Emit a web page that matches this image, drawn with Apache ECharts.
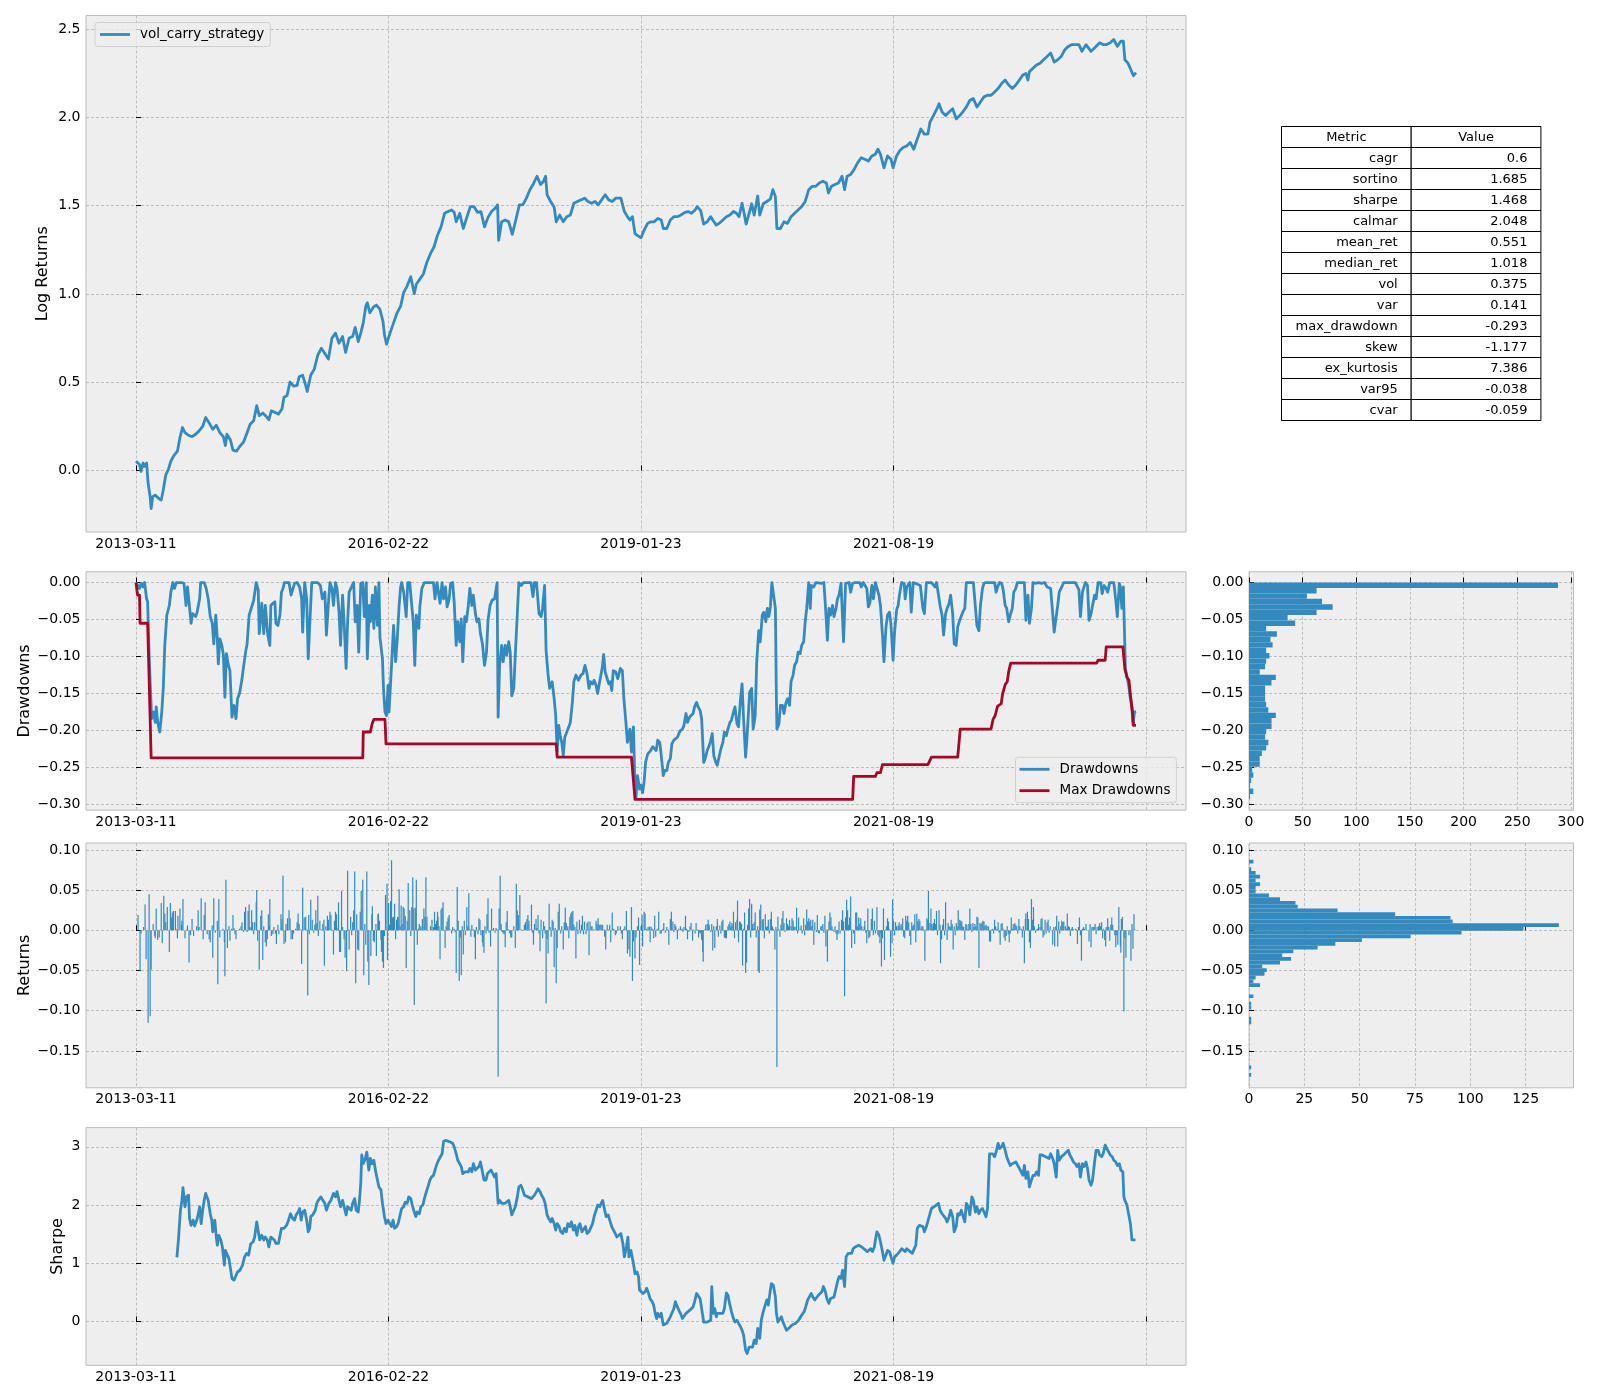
<!DOCTYPE html>
<html><head><meta charset="utf-8">
<script src="https://cdn.jsdelivr.net/npm/echarts@6/dist/echarts.min.js"></script>
<style>html,body{margin:0;padding:0;background:#fff}#c{width:1600px;height:1400px}</style>
</head><body><div id="c"></div>
<script>
// ---------- data ----------
const tickIdx = [0, 500, 1000, 1500, 2000];
const tickDates = ['2013-03-11', '2016-02-22', '2019-01-23', '2021-08-19', ''];

const logReturns = [[0,0.052],[7,0.033],[10,-0.006],[14,0.042],[17,0.023],[21,0.042],[24,-0.073],[28,-0.149],[30,-0.216],[33,-0.149],[38,-0.140],[45,-0.159],[50,-0.168],[54,-0.111],[59,-0.025],[64,0.004],[69,0.052],[75,0.084],[82,0.109],[87,0.185],[92,0.243],[97,0.214],[104,0.199],[111,0.191],[118,0.205],[125,0.224],[132,0.249],[138,0.300],[145,0.268],[152,0.233],[159,0.256],[166,0.214],[173,0.191],[177,0.141],[180,0.205],[187,0.172],[192,0.115],[199,0.109],[206,0.138],[213,0.161],[220,0.214],[226,0.262],[233,0.281],[239,0.367],[244,0.310],[251,0.325],[258,0.306],[263,0.287],[268,0.338],[275,0.329],[282,0.319],[289,0.348],[293,0.415],[299,0.424],[305,0.501],[312,0.478],[319,0.482],[323,0.530],[330,0.539],[336,0.482],[339,0.447],[346,0.539],[353,0.574],[360,0.654],[367,0.692],[374,0.663],[381,0.631],[388,0.750],[395,0.778],[402,0.721],[409,0.759],[415,0.669],[422,0.750],[429,0.759],[434,0.811],[440,0.730],[445,0.778],[450,0.836],[455,0.931],[458,0.950],[463,0.893],[470,0.925],[476,0.937],[483,0.912],[489,0.845],[492,0.769],[496,0.715],[503,0.778],[510,0.836],[517,0.893],[524,0.931],[530,1.008],[537,1.046],[544,1.098],[551,1.002],[555,1.055],[562,1.084],[569,1.113],[576,1.180],[583,1.228],[590,1.266],[597,1.333],[604,1.380],[611,1.457],[618,1.467],[625,1.476],[630,1.463],[634,1.409],[641,1.457],[648,1.371],[655,1.434],[662,1.495],[669,1.495],[676,1.463],[683,1.467],[690,1.380],[697,1.434],[704,1.467],[711,1.486],[716,1.505],[718,1.304],[724,1.409],[731,1.419],[738,1.409],[745,1.338],[752,1.419],[759,1.505],[766,1.505],[773,1.543],[780,1.591],[787,1.625],[794,1.667],[801,1.620],[807,1.639],[811,1.667],[814,1.562],[821,1.524],[828,1.491],[832,1.409],[839,1.447],[846,1.409],[853,1.438],[860,1.447],[867,1.514],[874,1.524],[881,1.533],[888,1.543],[895,1.524],[902,1.514],[909,1.524],[915,1.505],[922,1.533],[929,1.562],[936,1.533],[943,1.524],[950,1.543],[960,1.543],[967,1.467],[974,1.434],[978,1.419],[983,1.438],[988,1.342],[995,1.327],[1000,1.319],[1006,1.361],[1013,1.400],[1019,1.409],[1026,1.409],[1033,1.428],[1040,1.419],[1044,1.371],[1051,1.371],[1058,1.419],[1065,1.438],[1072,1.438],[1079,1.447],[1086,1.461],[1093,1.467],[1100,1.457],[1107,1.476],[1111,1.495],[1118,1.472],[1124,1.396],[1131,1.409],[1138,1.438],[1142,1.419],[1149,1.390],[1156,1.403],[1162,1.419],[1169,1.438],[1176,1.447],[1183,1.467],[1189,1.457],[1194,1.438],[1200,1.514],[1204,1.457],[1208,1.396],[1214,1.457],[1219,1.511],[1224,1.447],[1231,1.556],[1235,1.447],[1242,1.511],[1249,1.524],[1256,1.537],[1261,1.591],[1266,1.553],[1269,1.371],[1276,1.371],[1283,1.409],[1290,1.400],[1297,1.438],[1304,1.457],[1311,1.476],[1318,1.495],[1325,1.524],[1332,1.591],[1339,1.610],[1346,1.610],[1353,1.629],[1360,1.639],[1367,1.629],[1371,1.572],[1377,1.610],[1384,1.620],[1391,1.629],[1398,1.667],[1403,1.591],[1408,1.667],[1415,1.677],[1422,1.706],[1429,1.744],[1436,1.772],[1443,1.763],[1450,1.753],[1457,1.782],[1464,1.792],[1469,1.820],[1474,1.792],[1481,1.715],[1488,1.782],[1495,1.763],[1499,1.715],[1506,1.782],[1512,1.811],[1519,1.830],[1526,1.839],[1533,1.858],[1540,1.820],[1547,1.878],[1554,1.935],[1561,1.906],[1568,1.906],[1572,1.973],[1579,2.011],[1586,2.050],[1590,2.078],[1596,2.031],[1603,2.011],[1610,2.031],[1617,2.050],[1624,1.992],[1631,2.011],[1637,2.031],[1644,2.059],[1651,2.097],[1658,2.107],[1665,2.059],[1672,2.088],[1679,2.117],[1686,2.126],[1693,2.126],[1700,2.145],[1707,2.164],[1714,2.193],[1721,2.212],[1728,2.184],[1735,2.164],[1742,2.184],[1749,2.212],[1756,2.241],[1762,2.250],[1766,2.212],[1769,2.260],[1776,2.279],[1783,2.298],[1790,2.308],[1797,2.327],[1804,2.346],[1811,2.365],[1818,2.314],[1825,2.327],[1832,2.346],[1839,2.384],[1846,2.403],[1853,2.413],[1860,2.413],[1867,2.413],[1873,2.375],[1881,2.413],[1891,2.375],[1898,2.394],[1908,2.423],[1915,2.413],[1922,2.413],[1929,2.423],[1936,2.442],[1943,2.403],[1950,2.432],[1955,2.432],[1958,2.327],[1964,2.308],[1968,2.283],[1972,2.256],[1975,2.237],[1980,2.254]];

const drawdowns = [[0,0],[3,-0.001],[7,-0.008],[10,-0.001],[14,-0.006],[17,0],[21,-0.022],[23,-0.026],[26,-0.098],[28,-0.134],[31,-0.184],[35,-0.175],[38,-0.189],[40,-0.168],[43,-0.189],[47,-0.202],[51,-0.175],[54,-0.143],[57,-0.085],[61,-0.044],[66,-0.031],[69,-0.013],[73,0],[76,-0.008],[80,0],[90,0],[95,-0.001],[99,-0.031],[102,-0.006],[105,-0.026],[109,-0.055],[112,-0.042],[118,-0.046],[121,-0.040],[126,-0.022],[128,0],[135,0],[139,-0.008],[143,-0.022],[147,-0.046],[151,-0.055],[154,-0.083],[158,-0.044],[161,-0.076],[163,-0.110],[166,-0.076],[170,-0.085],[173,-0.098],[176,-0.155],[179,-0.096],[183,-0.112],[186,-0.119],[190,-0.182],[194,-0.166],[198,-0.184],[201,-0.157],[205,-0.150],[209,-0.134],[213,-0.114],[217,-0.094],[220,-0.083],[224,-0.044],[229,-0.033],[233,-0.024],[238,0],[242,-0.010],[244,-0.069],[249,-0.028],[253,-0.069],[256,-0.031],[261,-0.071],[265,-0.085],[267,-0.031],[271,-0.028],[275,-0.026],[277,-0.055],[281,-0.058],[285,-0.044],[288,-0.013],[291,-0.008],[294,0],[303,0],[307,-0.017],[310,-0.017],[314,-0.001],[319,0],[324,-0.006],[328,-0.022],[330,-0.067],[334,0],[338,-0.022],[341,-0.103],[344,-0.058],[348,0],[360,0],[365,-0.004],[369,-0.022],[374,-0.013],[377,-0.071],[381,-0.028],[384,0],[388,-0.008],[391,-0.031],[395,0],[398,-0.008],[402,-0.040],[405,-0.085],[409,-0.017],[412,-0.053],[416,-0.116],[419,-0.053],[422,-0.013],[428,-0.004],[431,0],[434,-0.053],[438,-0.031],[441,-0.094],[445,-0.001],[449,0],[452,-0.046],[456,0],[458,-0.103],[462,-0.031],[464,-0.053],[468,-0.017],[471,-0.062],[474,-0.006],[478,-0.058],[481,0],[483,-0.074],[488,-0.103],[490,-0.143],[493,-0.175],[496,-0.180],[499,-0.139],[501,-0.175],[504,-0.137],[508,-0.085],[510,-0.058],[514,-0.107],[517,-0.080],[521,-0.031],[524,-0.006],[526,0],[530,-0.013],[535,-0.046],[538,0],[542,0],[546,-0.031],[549,-0.053],[552,-0.112],[555,-0.044],[560,-0.062],[562,-0.033],[566,-0.008],[571,0],[589,0],[592,-0.022],[596,0],[602,-0.028],[606,0],[609,-0.022],[613,-0.006],[616,-0.033],[620,-0.022],[623,-0.001],[627,0],[630,-0.026],[634,-0.085],[637,-0.053],[641,-0.080],[644,-0.049],[647,-0.107],[651,-0.046],[654,-0.053],[658,-0.031],[661,-0.008],[665,-0.031],[668,-0.017],[672,-0.042],[675,-0.053],[679,-0.049],[682,-0.069],[686,-0.083],[690,-0.112],[694,-0.094],[697,-0.051],[701,-0.031],[705,-0.024],[710,-0.022],[715,0],[717,-0.182],[720,-0.112],[724,-0.085],[727,-0.107],[731,-0.085],[734,-0.098],[738,-0.080],[741,-0.094],[744,-0.153],[748,-0.143],[751,-0.098],[755,-0.042],[758,0],[763,-0.004],[767,0],[782,0],[786,-0.019],[789,0],[793,0],[798,-0.042],[802,-0.046],[805,-0.035],[809,-0.004],[812,-0.092],[816,-0.125],[819,-0.143],[824,-0.134],[828,-0.157],[831,-0.180],[834,-0.229],[837,-0.193],[840,-0.207],[843,-0.216],[846,-0.234],[849,-0.209],[853,-0.202],[857,-0.195],[860,-0.189],[864,-0.162],[867,-0.134],[871,-0.125],[876,-0.132],[881,-0.125],[885,-0.123],[889,-0.112],[893,-0.123],[897,-0.143],[900,-0.134],[904,-0.137],[907,-0.132],[911,-0.139],[914,-0.150],[918,-0.134],[923,-0.116],[926,-0.097],[929,-0.121],[933,-0.130],[936,-0.137],[939,-0.134],[942,-0.146],[945,-0.119],[950,-0.121],[954,-0.130],[959,-0.116],[963,-0.119],[966,-0.157],[970,-0.189],[973,-0.216],[978,-0.198],[981,-0.229],[985,-0.195],[988,-0.279],[990,-0.290],[993,-0.261],[997,-0.279],[1000,-0.274],[1003,-0.284],[1006,-0.270],[1009,-0.243],[1013,-0.232],[1016,-0.234],[1019,-0.227],[1023,-0.222],[1026,-0.220],[1030,-0.227],[1033,-0.213],[1037,-0.216],[1040,-0.234],[1044,-0.261],[1047,-0.254],[1051,-0.254],[1054,-0.243],[1058,-0.238],[1061,-0.218],[1065,-0.213],[1068,-0.211],[1072,-0.209],[1075,-0.204],[1078,-0.200],[1082,-0.198],[1085,-0.193],[1089,-0.177],[1092,-0.189],[1096,-0.182],[1099,-0.180],[1103,-0.177],[1106,-0.168],[1110,-0.162],[1113,-0.168],[1117,-0.173],[1120,-0.184],[1124,-0.243],[1127,-0.238],[1131,-0.227],[1134,-0.222],[1137,-0.216],[1141,-0.204],[1144,-0.234],[1148,-0.243],[1151,-0.247],[1155,-0.234],[1158,-0.225],[1162,-0.216],[1165,-0.202],[1169,-0.207],[1172,-0.198],[1176,-0.189],[1179,-0.186],[1183,-0.175],[1186,-0.168],[1190,-0.191],[1193,-0.195],[1197,-0.157],[1200,-0.137],[1203,-0.184],[1207,-0.236],[1209,-0.218],[1212,-0.184],[1215,-0.148],[1219,-0.143],[1222,-0.198],[1226,-0.180],[1229,-0.107],[1233,-0.065],[1236,-0.080],[1240,-0.044],[1243,-0.040],[1247,-0.053],[1250,-0.035],[1253,-0.046],[1256,-0.033],[1259,0],[1262,-0.001],[1266,-0.035],[1268,-0.157],[1269,-0.198],[1273,-0.191],[1276,-0.166],[1280,-0.166],[1283,-0.177],[1287,-0.162],[1290,-0.157],[1294,-0.166],[1297,-0.134],[1301,-0.125],[1304,-0.112],[1308,-0.107],[1311,-0.094],[1315,-0.096],[1318,-0.085],[1322,-0.080],[1325,-0.053],[1328,-0.035],[1332,0],[1335,-0.035],[1337,-0.004],[1342,-0.006],[1346,0],[1358,-0.001],[1362,0],[1365,-0.031],[1369,-0.078],[1372,-0.035],[1375,-0.044],[1379,-0.031],[1382,-0.046],[1386,-0.035],[1389,-0.022],[1392,-0.017],[1396,-0.001],[1399,0],[1401,-0.080],[1405,-0.001],[1412,0],[1415,-0.013],[1419,-0.001],[1424,0],[1433,0],[1436,-0.006],[1440,0],[1443,0],[1447,-0.008],[1450,-0.033],[1453,-0.028],[1457,-0.004],[1460,-0.022],[1464,0],[1467,-0.001],[1471,-0.017],[1474,-0.031],[1478,-0.071],[1481,-0.107],[1485,-0.060],[1488,-0.044],[1492,-0.040],[1495,-0.058],[1499,-0.105],[1502,-0.067],[1506,-0.037],[1509,-0.031],[1512,-0.015],[1516,0],[1521,-0.001],[1523,-0.022],[1526,-0.006],[1532,0],[1535,-0.040],[1539,0],[1553,-0.004],[1558,-0.035],[1561,-0.042],[1565,0],[1575,0],[1582,-0.006],[1585,0],[1589,-0.017],[1592,-0.031],[1596,-0.044],[1599,-0.071],[1603,-0.042],[1606,-0.035],[1610,-0.028],[1613,-0.017],[1617,-0.042],[1620,-0.083],[1624,-0.085],[1627,-0.060],[1631,-0.051],[1634,-0.049],[1637,-0.040],[1641,-0.035],[1644,0],[1658,0],[1662,-0.033],[1665,-0.058],[1669,-0.065],[1672,-0.031],[1676,-0.008],[1679,-0.001],[1683,0],[1700,0],[1703,-0.013],[1707,-0.004],[1710,0],[1714,-0.001],[1717,-0.010],[1721,-0.031],[1724,-0.035],[1728,-0.053],[1731,-0.044],[1735,-0.035],[1738,-0.013],[1742,-0.008],[1745,0],[1759,0],[1762,-0.051],[1766,-0.017],[1769,-0.055],[1773,-0.035],[1776,0],[1780,-0.001],[1787,0],[1794,-0.001],[1799,0],[1804,-0.006],[1811,-0.008],[1818,-0.067],[1821,-0.051],[1825,-0.031],[1828,-0.013],[1833,-0.006],[1837,0],[1860,0],[1867,-0.010],[1870,-0.046],[1874,-0.013],[1877,-0.006],[1880,0],[1884,-0.004],[1887,-0.051],[1891,-0.042],[1894,-0.031],[1898,-0.017],[1901,-0.022],[1905,0],[1910,0],[1913,-0.015],[1917,-0.004],[1921,-0.008],[1924,-0.013],[1928,0],[1936,0],[1940,-0.024],[1943,-0.046],[1947,-0.001],[1949,-0.006],[1952,-0.035],[1955,-0.006],[1958,-0.089],[1959,-0.116],[1963,-0.130],[1966,-0.141],[1968,-0.153],[1972,-0.170],[1974,-0.192],[1977,-0.175],[1980,-0.174]];

const maxDrawdowns = [[0,0],[3,-0.017],[7,-0.017],[8,-0.055],[23,-0.055],[26,-0.13],[30,-0.237],[449,-0.237],[450,-0.202],[464,-0.202],[468,-0.190],[471,-0.185],[493,-0.185],[495,-0.218],[832,-0.218],[834,-0.236],[981,-0.236],[988,-0.293],[1419,-0.293],[1421,-0.262],[1464,-0.262],[1467,-0.257],[1474,-0.257],[1478,-0.246],[1568,-0.246],[1575,-0.236],[1627,-0.236],[1632,-0.198],[1693,-0.198],[1697,-0.185],[1701,-0.180],[1706,-0.167],[1713,-0.164],[1716,-0.150],[1721,-0.138],[1725,-0.134],[1728,-0.120],[1732,-0.109],[1902,-0.109],[1905,-0.105],[1919,-0.105],[1921,-0.087],[1954,-0.087],[1958,-0.117],[1962,-0.128],[1966,-0.132],[1969,-0.152],[1973,-0.175],[1975,-0.193],[1980,-0.193]];

const returns = [[4,0.019],[8,-0.051],[10,-0.004],[15,0.004],[18,0.032],[20,-0.036],[24,-0.115],[26,0.045],[28,-0.107],[30,-0.049],[34,0.008],[37,-0.007],[38,-0.010],[40,0.027],[43,-0.012],[46,-0.009],[48,0.001],[50,0.034],[52,-0.016],[55,0.043],[57,0.021],[59,0.010],[62,0.029],[66,-0.027],[68,0.034],[70,0.016],[72,0.022],[74,0.024],[78,0.024],[79,0.002],[82,-0.010],[83,0.018],[87,0.027],[90,0.007],[91,0.012],[93,0.039],[97,-0.010],[100,0.001],[102,0.006],[105,-0.040],[108,-0.006],[111,0.014],[114,-0.007],[120,0.005],[123,0.025],[125,0.004],[129,0.040],[133,-0.011],[135,0.019],[137,0.035],[141,-0.005],[145,-0.011],[147,-0.015],[151,0.006],[152,-0.034],[154,0.040],[157,-0.003],[161,0.012],[162,-0.067],[164,0.039],[166,-0.009],[172,0.002],[175,-0.015],[176,-0.057],[178,0.063],[180,0.001],[181,-0.022],[184,0.005],[186,-0.013],[189,0.002],[192,0.019],[194,0.003],[196,-0.005],[198,-0.011],[205,0.002],[208,0.005],[210,0.010],[213,-0.002],[215,0.023],[217,0.029],[220,-0.002],[222,0.024],[224,0.032],[226,0.004],[229,0.025],[231,0.010],[233,-0.005],[235,0.010],[238,0.035],[239,0.050],[241,-0.013],[244,-0.049],[247,0.018],[249,0.025],[251,-0.037],[253,0.005],[256,-0.015],[258,-0.020],[260,-0.011],[262,0.020],[264,0.005],[265,0.039],[268,-0.007],[271,-0.005],[273,0.004],[276,-0.004],[278,-0.017],[281,0.007],[283,-0.005],[287,0.020],[289,0.014],[291,0.068],[293,-0.017],[296,-0.015],[297,0.008],[300,0.015],[303,0.025],[305,0.015],[307,-0.011],[310,-0.011],[312,-0.004],[316,0.002],[319,0.010],[321,0.021],[323,0.008],[326,0.001],[328,-0.042],[330,0.053],[333,0.016],[336,0.017],[338,0.001],[340,-0.081],[342,0.019],[343,-0.005],[346,0.038],[349,0.013],[352,-0.003],[354,0.007],[356,0.025],[358,0.009],[360,0.043],[361,-0.007],[364,0.012],[367,0.001],[370,0.008],[372,0.013],[373,-0.044],[376,0.005],[379,0.018],[381,0.013],[384,0.023],[386,0.019],[388,0.001],[391,-0.030],[393,0.012],[395,0.023],[397,0.020],[400,0.003],[401,0.035],[403,-0.027],[405,-0.027],[407,0.049],[409,0.004],[412,-0.011],[414,-0.034],[417,-0.051],[419,0.074],[421,0.001],[422,-0.024],[425,0.017],[427,-0.006],[429,0.010],[431,0.025],[433,0.073],[435,-0.066],[437,0.020],[439,-0.024],[441,-0.025],[444,0.023],[446,0.049],[449,0.063],[451,-0.056],[453,0.008],[455,-0.018],[457,0.073],[459,-0.039],[461,-0.068],[465,-0.032],[467,0.020],[468,0.030],[470,-0.013],[472,-0.015],[475,0.008],[476,-0.032],[479,0.020],[480,0.021],[482,0.012],[485,-0.012],[486,-0.027],[488,-0.039],[490,-0.047],[492,-0.007],[494,0.044],[497,0.058],[498,-0.037],[500,0.034],[502,0.007],[504,0.036],[506,0.087],[508,0.016],[510,0.017],[512,0.033],[514,-0.011],[516,0.013],[518,0.017],[519,0.016],[521,0.051],[523,0.005],[525,0.031],[527,0.008],[529,0.029],[531,0.027],[533,0.018],[535,-0.047],[537,0.012],[539,0.059],[542,0.025],[544,-0.007],[546,0.029],[548,0.066],[550,0.027],[551,-0.093],[553,0.028],[555,0.063],[557,-0.018],[559,0.002],[561,0.008],[563,0.002],[564,0.005],[567,0.014],[570,0.027],[572,0.017],[574,0.066],[576,0.017],[583,0.005],[586,0.013],[589,0.004],[591,0.023],[593,0.008],[595,0.012],[597,0.023],[598,0.017],[600,0.005],[602,-0.036],[604,0.026],[606,0.028],[608,0.035],[610,-0.001],[612,-0.022],[614,0.005],[616,0.011],[618,0.016],[620,0.019],[622,0.001],[625,-0.004],[627,0.004],[630,0.002],[632,-0.002],[634,-0.053],[636,0.054],[638,0.012],[640,-0.063],[642,-0.009],[644,-0.056],[646,0.005],[648,-0.030],[650,0.012],[652,-0.006],[655,0.029],[657,0.005],[659,0.046],[661,0.002],[663,-0.008],[665,0.007],[668,0.001],[670,-0.009],[672,-0.036],[674,0.004],[677,-0.005],[679,0.015],[681,0.013],[683,-0.006],[686,-0.015],[687,-0.020],[689,-0.028],[691,0.005],[693,-0.004],[695,0.020],[697,0.040],[699,-0.003],[702,-0.020],[704,0.027],[706,0.001],[708,0.003],[711,-0.003],[713,0.003],[715,0.001],[717,-0.182],[719,0.027],[721,0.068],[723,0.008],[725,-0.002],[727,-0.004],[729,-0.005],[731,-0.021],[733,0.010],[735,0.024],[738,0.001],[740,-0.004],[742,-0.009],[744,-0.009],[748,0.005],[751,-0.022],[753,0.058],[755,0.025],[757,0.019],[760,0.044],[763,0.001],[766,-0.001],[769,0.007],[771,0.010],[774,0.014],[776,0.019],[778,0.012],[780,0.001],[783,0.032],[785,-0.003],[787,-0.018],[789,0.008],[792,0.014],[794,0.003],[796,0.019],[798,-0.004],[800,-0.026],[802,0.013],[805,-0.010],[807,0.011],[809,0.005],[810,-0.004],[812,-0.091],[814,-0.011],[816,-0.029],[818,0.033],[820,0.004],[822,-0.008],[824,0.013],[826,0.011],[828,-0.046],[830,0.003],[832,-0.066],[834,-0.022],[836,0.023],[838,0.033],[841,-0.004],[843,0.005],[846,-0.024],[848,0.010],[850,0.028],[852,0.009],[855,0.005],[857,-0.010],[859,0.017],[861,0.021],[863,0.023],[865,0.024],[867,0.007],[869,0.004],[871,-0.035],[873,0.011],[875,-0.005],[878,0.013],[880,-0.004],[882,0.007],[884,0.018],[886,-0.005],[888,0.011],[891,-0.005],[893,0.009],[895,0.011],[897,-0.031],[899,0.011],[901,0.005],[903,0.005],[906,0.001],[908,0.001],[911,0.012],[913,0.008],[915,0.015],[917,0.007],[919,0.007],[921,0.007],[924,0.007],[927,0.001],[928,-0.008],[930,-0.024],[933,0.007],[936,0.001],[938,0.007],[940,-0.015],[943,0.022],[945,0.002],[947,0.001],[949,-0.006],[951,-0.004],[954,0.005],[956,0.001],[959,0.005],[961,-0.004],[963,-0.011],[966,0.002],[968,0.005],[971,0.024],[973,-0.029],[976,-0.024],[978,-0.033],[981,0.029],[983,-0.063],[985,-0.014],[988,-0.035],[990,-0.009],[993,0.005],[995,0.016],[997,-0.043],[1000,0.005],[1002,0.019],[1003,-0.020],[1006,0.023],[1008,0.021],[1011,0.002],[1014,0.004],[1017,0.005],[1018,-0.015],[1020,0.004],[1023,0.002],[1025,-0.010],[1027,0.018],[1029,-0.008],[1032,0.002],[1035,0.023],[1038,-0.004],[1040,-0.004],[1043,0.002],[1045,0.009],[1048,-0.003],[1051,0.004],[1053,0.001],[1055,-0.018],[1058,0.014],[1060,0.023],[1063,0.011],[1065,-0.002],[1067,0.008],[1069,0.005],[1072,-0.011],[1075,0.002],[1078,0.005],[1081,0.002],[1083,-0.002],[1085,0.004],[1088,0.018],[1090,0.002],[1092,-0.011],[1095,-0.002],[1097,0.005],[1099,0.009],[1102,-0.013],[1104,0.001],[1107,-0.004],[1109,0.009],[1112,0.001],[1114,-0.009],[1116,-0.003],[1118,-0.004],[1120,-0.012],[1122,-0.027],[1123,-0.039],[1126,0.001],[1128,0.007],[1131,0.008],[1133,0.013],[1135,0.007],[1138,-0.002],[1140,0.008],[1142,-0.025],[1144,0.005],[1146,-0.022],[1149,0.005],[1151,0.014],[1153,-0.008],[1156,0.006],[1158,-0.004],[1160,0.011],[1162,0.013],[1165,-0.009],[1167,-0.010],[1169,-0.010],[1172,0.005],[1174,0.008],[1176,0.011],[1178,0.005],[1180,0.009],[1182,0.007],[1183,0.023],[1185,-0.010],[1187,0.010],[1190,0.013],[1191,0.037],[1193,-0.015],[1195,0.011],[1197,0.010],[1199,0.008],[1201,-0.044],[1203,0.002],[1205,0.022],[1207,-0.053],[1209,-0.040],[1211,0.007],[1213,0.027],[1215,0.039],[1217,-0.009],[1219,0.033],[1221,0.008],[1223,0.002],[1224,0.010],[1226,0.022],[1228,-0.009],[1231,0.005],[1232,-0.051],[1234,-0.053],[1235,0.026],[1237,0.032],[1240,0.013],[1242,0.014],[1244,-0.010],[1246,0.020],[1248,0.004],[1250,0.005],[1252,0.013],[1254,-0.004],[1256,0.014],[1258,0.023],[1260,0.005],[1262,0.002],[1265,-0.024],[1267,0.004],[1269,-0.170],[1271,0.017],[1273,0.001],[1275,-0.008],[1277,0.007],[1279,0.015],[1281,0.024],[1283,0.009],[1285,-0.002],[1288,0.015],[1290,0.008],[1292,0.005],[1294,0.013],[1297,0.005],[1299,0.015],[1301,0.012],[1303,0.005],[1305,0.004],[1308,0.028],[1310,-0.004],[1312,0.016],[1315,0.002],[1317,0.006],[1319,-0.004],[1322,0.015],[1324,-0.006],[1326,0.007],[1328,0.026],[1330,0.011],[1332,0.015],[1334,0.011],[1336,0.013],[1338,0.005],[1340,0.013],[1342,-0.018],[1344,0.010],[1347,-0.002],[1349,0.019],[1351,-0.003],[1353,-0.004],[1356,0.005],[1358,0.005],[1360,0.008],[1362,-0.003],[1364,0.018],[1366,-0.020],[1368,0.001],[1369,-0.039],[1372,0.011],[1374,0.022],[1376,0.016],[1378,0.005],[1380,0.001],[1382,-0.002],[1384,0.005],[1386,-0.004],[1388,-0.012],[1390,-0.005],[1392,0.011],[1394,-0.004],[1397,0.013],[1399,0.025],[1401,0.011],[1403,-0.082],[1405,0.016],[1407,0.038],[1409,0.025],[1411,0.007],[1413,0.016],[1415,0.042],[1417,-0.022],[1419,0.001],[1421,-0.004],[1423,-0.017],[1425,0.022],[1427,0.022],[1429,0.005],[1431,0.016],[1433,0.008],[1435,0.015],[1437,0.005],[1440,0.001],[1442,0.005],[1443,0.012],[1445,-0.003],[1447,-0.016],[1449,0.027],[1451,-0.010],[1453,-0.008],[1456,0.014],[1458,0.027],[1460,-0.006],[1462,0.012],[1464,-0.004],[1467,0.029],[1469,-0.006],[1471,-0.008],[1473,-0.016],[1475,-0.004],[1476,-0.045],[1478,-0.010],[1480,0.027],[1482,-0.037],[1484,0.001],[1486,0.005],[1488,0.015],[1490,0.011],[1492,0.001],[1494,-0.033],[1497,-0.016],[1498,0.038],[1500,0.012],[1502,-0.006],[1504,0.010],[1506,0.005],[1509,0.006],[1511,0.010],[1513,0.005],[1515,0.008],[1518,0.015],[1520,-0.008],[1522,-0.010],[1524,0.018],[1526,0.012],[1528,0.018],[1530,0.010],[1532,-0.007],[1534,-0.018],[1536,0.010],[1538,0.005],[1540,0.007],[1542,0.020],[1544,-0.015],[1546,0.021],[1548,0.011],[1550,0.014],[1552,0.012],[1554,0.002],[1556,0.005],[1558,0.005],[1560,0.001],[1562,-0.038],[1564,0.001],[1566,0.015],[1568,0.013],[1569,0.049],[1572,0.009],[1574,0.027],[1576,0.008],[1578,0.005],[1579,0.009],[1581,0.014],[1583,0.008],[1585,0.024],[1587,-0.006],[1590,0.025],[1592,0.007],[1593,-0.041],[1595,-0.011],[1597,0.007],[1599,0.014],[1601,-0.006],[1603,0.035],[1606,-0.012],[1608,0.009],[1610,0.005],[1612,0.004],[1614,0.013],[1616,0.008],[1618,-0.024],[1620,0.005],[1622,-0.006],[1624,0.009],[1626,0.005],[1628,0.025],[1631,0.013],[1633,0.012],[1635,0.011],[1637,0.005],[1639,0.004],[1641,-0.012],[1643,0.008],[1645,0.007],[1647,0.001],[1649,0.008],[1651,0.027],[1653,0.008],[1655,-0.002],[1657,0.009],[1659,0.004],[1661,0.008],[1663,0.005],[1665,0.017],[1667,0.016],[1669,-0.047],[1671,0.009],[1673,0.008],[1675,0.010],[1677,0.012],[1679,0.011],[1681,0.005],[1683,0.007],[1685,0.005],[1688,0.005],[1690,-0.014],[1692,-0.014],[1694,0.001],[1696,0.002],[1698,-0.004],[1700,0.013],[1702,0.005],[1705,0.002],[1707,0.010],[1709,-0.003],[1711,-0.018],[1713,0.008],[1715,0.009],[1717,0.002],[1719,-0.009],[1721,-0.013],[1723,-0.007],[1725,0.005],[1727,-0.005],[1729,-0.015],[1731,-0.004],[1733,0.016],[1735,0.002],[1737,0.008],[1740,0.009],[1742,0.007],[1744,0.005],[1746,-0.004],[1748,0.014],[1750,0.005],[1753,0.002],[1755,-0.009],[1757,0.005],[1759,-0.041],[1761,0.014],[1762,0.021],[1765,0.023],[1767,0.014],[1769,-0.015],[1771,-0.022],[1773,0.039],[1775,0.013],[1777,0.029],[1779,0.005],[1781,-0.003],[1783,0.001],[1785,0.002],[1787,0.008],[1790,0.004],[1792,0.014],[1794,0.015],[1796,-0.009],[1798,-0.006],[1800,0.013],[1802,-0.004],[1804,0.010],[1806,0.013],[1808,-0.003],[1810,0.005],[1815,-0.018],[1817,0.004],[1819,-0.020],[1821,0.005],[1823,0.018],[1825,-0.020],[1827,0.011],[1829,-0.004],[1831,0.005],[1833,0.012],[1835,0.010],[1837,0.011],[1840,0.005],[1842,0.002],[1844,0.021],[1846,0.005],[1848,0.004],[1850,-0.007],[1852,0.002],[1854,0.004],[1856,0.001],[1860,0.002],[1862,0.001],[1864,-0.017],[1866,0.004],[1868,0.016],[1870,-0.006],[1872,-0.038],[1874,0.002],[1876,0.004],[1878,0.002],[1881,0.008],[1887,-0.014],[1889,0.008],[1891,-0.021],[1893,0.004],[1895,0.004],[1897,0.004],[1899,0.008],[1901,-0.005],[1903,0.004],[1906,0.005],[1908,0.009],[1910,0.005],[1912,0.010],[1914,-0.010],[1916,0.002],[1918,-0.012],[1920,-0.020],[1921,0.004],[1924,0.015],[1926,0.004],[1928,-0.013],[1930,0.007],[1932,0.016],[1934,0.007],[1938,-0.006],[1940,-0.021],[1942,-0.006],[1944,-0.018],[1946,0.029],[1949,-0.020],[1950,-0.028],[1951,0.014],[1953,0.017],[1956,-0.101],[1958,-0.010],[1960,-0.034],[1966,-0.006],[1970,-0.038],[1972,0.008],[1974,-0.023],[1976,0.020],[1978,0.001]];

const rollingSharpe = [[81,1.10],[84,1.40],[88,1.91],[91,2.08],[93,2.30],[97,1.97],[100,2.14],[104,2.17],[106,1.77],[109,1.65],[113,1.74],[116,1.64],[120,1.73],[123,1.83],[126,1.97],[129,1.68],[132,1.91],[135,2.08],[138,2.20],[143,2.08],[147,1.85],[150,1.74],[152,1.54],[156,1.74],[159,1.45],[161,1.31],[164,1.48],[168,1.40],[171,1.28],[175,0.97],[177,1.22],[180,1.20],[184,1.08],[187,1.05],[190,0.74],[194,0.71],[197,0.68],[201,0.85],[206,0.88],[211,0.97],[215,1.11],[219,1.17],[223,1.14],[227,1.33],[232,1.37],[235,1.45],[239,1.71],[242,1.68],[245,1.40],[249,1.48],[253,1.40],[256,1.45],[260,1.40],[263,1.28],[267,1.45],[270,1.45],[274,1.40],[277,1.34],[282,1.34],[285,1.37],[288,1.60],[293,1.60],[298,1.65],[302,1.74],[306,1.85],[310,1.77],[314,1.74],[317,1.83],[321,1.88],[324,1.94],[327,1.74],[330,1.88],[334,1.91],[338,1.74],[341,1.54],[344,1.60],[346,1.80],[350,1.83],[355,1.91],[358,2.03],[361,2.08],[366,2.14],[370,2.08],[374,2.03],[377,1.91],[382,2.03],[386,2.08],[391,2.20],[395,2.14],[398,2.23],[402,2.08],[405,1.97],[409,2.08],[412,2.08],[416,1.83],[419,1.97],[422,2.00],[426,1.91],[429,2.03],[433,2.11],[436,1.91],[440,1.88],[442,2.03],[445,2.37],[447,2.86],[450,2.71],[454,2.80],[457,2.91],[461,2.60],[464,2.80],[467,2.71],[471,2.77],[474,2.60],[478,2.43],[481,2.31],[485,2.26],[488,2.03],[492,1.80],[495,1.68],[499,1.74],[502,1.71],[506,1.63],[509,1.74],[512,1.60],[516,1.63],[519,1.68],[523,1.83],[526,1.94],[530,1.97],[533,2.05],[537,2.03],[540,2.14],[544,2.11],[547,2.00],[551,1.88],[554,1.80],[557,1.88],[561,1.85],[564,1.97],[568,2.00],[571,2.11],[575,2.23],[578,2.31],[582,2.43],[585,2.48],[589,2.51],[592,2.60],[596,2.71],[599,2.77],[602,2.77],[606,2.88],[609,3.09],[613,3.11],[616,3.14],[620,3.09],[623,3.06],[627,3.06],[630,3.00],[634,2.88],[637,2.77],[641,2.71],[644,2.66],[647,2.54],[651,2.57],[654,2.60],[658,2.57],[661,2.63],[665,2.57],[668,2.71],[672,2.60],[675,2.57],[679,2.66],[682,2.74],[686,2.57],[689,2.43],[693,2.43],[696,2.54],[699,2.57],[703,2.60],[706,2.63],[710,2.48],[713,2.54],[717,2.03],[720,2.08],[724,2.03],[727,2.05],[731,2.03],[734,2.05],[738,2.08],[741,1.97],[744,1.83],[748,1.91],[751,1.97],[755,2.14],[758,2.31],[762,2.34],[765,2.28],[769,2.17],[776,2.14],[783,2.11],[786,2.08],[789,2.17],[793,2.23],[796,2.28],[800,2.23],[803,2.17],[807,2.11],[810,2.03],[814,1.83],[817,1.77],[821,1.71],[824,1.77],[828,1.68],[831,1.57],[834,1.68],[838,1.63],[841,1.54],[845,1.51],[848,1.60],[852,1.54],[855,1.68],[859,1.63],[862,1.71],[866,1.57],[869,1.65],[873,1.48],[876,1.63],[879,1.68],[883,1.54],[886,1.57],[890,1.63],[893,1.51],[897,1.54],[900,1.51],[904,1.68],[907,1.80],[911,1.91],[914,2.00],[918,1.97],[921,2.03],[924,2.08],[928,1.91],[931,1.80],[935,1.83],[938,1.74],[942,1.63],[945,1.60],[949,1.51],[952,1.45],[960,1.51],[964,1.34],[967,1.11],[971,1.28],[974,1.45],[976,1.11],[980,1.22],[983,1.08],[986,0.94],[988,0.82],[992,0.85],[995,0.77],[997,0.54],[1000,0.51],[1004,0.48],[1008,0.51],[1011,0.57],[1015,0.48],[1018,0.39],[1022,0.34],[1025,0.28],[1028,0.14],[1031,0.05],[1033,0.14],[1037,0.08],[1040,0.14],[1044,-0.06],[1047,-0.09],[1051,-0.03],[1054,-0.01],[1058,0.08],[1061,0.14],[1065,0.22],[1068,0.34],[1072,0.25],[1075,0.19],[1078,0.14],[1082,0.05],[1085,0.08],[1089,0.14],[1092,0.17],[1096,0.19],[1099,0.22],[1103,0.25],[1106,0.34],[1110,0.48],[1113,0.45],[1117,0.39],[1120,0.22],[1124,-0.01],[1127,-0.03],[1131,-0.01],[1134,-0.03],[1138,0.02],[1140,0.60],[1143,0.14],[1146,0.22],[1149,0.08],[1151,0.14],[1155,0.14],[1158,0.17],[1162,0.14],[1165,0.22],[1169,0.49],[1172,0.45],[1176,0.28],[1179,0.17],[1183,0.05],[1186,-0.01],[1190,0.02],[1193,-0.03],[1197,-0.09],[1200,-0.15],[1203,-0.23],[1207,-0.49],[1210,-0.55],[1214,-0.44],[1217,-0.41],[1221,-0.44],[1224,-0.32],[1228,-0.38],[1231,-0.12],[1235,-0.29],[1238,0.02],[1242,0.17],[1245,0.19],[1249,0.37],[1252,0.28],[1256,0.54],[1258,0.65],[1262,0.62],[1266,0.42],[1268,0.14],[1271,-0.01],[1274,-0.03],[1278,0.08],[1281,-0.01],[1285,-0.09],[1288,-0.15],[1292,-0.12],[1295,-0.09],[1299,-0.06],[1302,-0.06],[1306,-0.03],[1309,-0.03],[1312,0.02],[1316,0.08],[1319,0.11],[1323,0.17],[1326,0.25],[1330,0.37],[1333,0.39],[1337,0.48],[1340,0.42],[1344,0.37],[1347,0.39],[1351,0.45],[1354,0.48],[1358,0.51],[1361,0.60],[1365,0.51],[1368,0.39],[1372,0.31],[1375,0.39],[1378,0.37],[1382,0.42],[1385,0.42],[1389,0.68],[1392,0.77],[1396,0.74],[1399,0.88],[1401,0.91],[1403,0.60],[1406,1.11],[1410,1.17],[1413,1.20],[1417,1.17],[1420,1.25],[1424,1.28],[1427,1.28],[1431,1.31],[1434,1.28],[1437,1.28],[1441,1.25],[1444,1.28],[1448,1.20],[1451,1.22],[1455,1.25],[1458,1.20],[1462,1.28],[1464,1.40],[1467,1.54],[1471,1.48],[1474,1.37],[1478,1.20],[1481,1.05],[1485,1.14],[1488,1.22],[1492,1.20],[1495,1.11],[1499,1.00],[1502,1.11],[1506,1.14],[1509,1.17],[1512,1.20],[1516,1.25],[1519,1.25],[1523,1.20],[1526,1.25],[1530,1.22],[1533,1.20],[1537,1.17],[1540,1.20],[1544,1.31],[1547,1.60],[1551,1.65],[1554,1.68],[1558,1.63],[1561,1.54],[1565,1.63],[1568,1.65],[1572,1.85],[1575,1.94],[1578,1.91],[1582,1.98],[1585,2.00],[1589,2.03],[1592,1.91],[1596,1.85],[1599,1.83],[1603,1.77],[1606,1.71],[1610,1.80],[1613,1.91],[1617,1.80],[1620,1.54],[1624,1.63],[1627,1.85],[1631,1.83],[1634,1.91],[1637,1.88],[1641,1.71],[1644,2.03],[1648,1.97],[1651,1.83],[1655,2.14],[1658,2.08],[1662,1.88],[1665,1.97],[1669,1.85],[1672,1.91],[1676,1.94],[1679,1.88],[1683,1.80],[1686,1.94],[1690,2.88],[1693,2.86],[1696,2.88],[1700,2.83],[1703,2.91],[1707,3.06],[1710,2.97],[1714,3.00],[1717,3.06],[1721,2.94],[1724,2.83],[1728,2.74],[1731,2.68],[1735,2.71],[1738,2.68],[1742,2.74],[1745,2.71],[1749,2.63],[1752,2.66],[1756,2.51],[1759,2.68],[1762,2.46],[1766,2.57],[1769,2.31],[1773,2.43],[1776,2.51],[1780,2.51],[1783,2.57],[1787,2.51],[1790,2.86],[1794,2.86],[1797,2.88],[1801,2.83],[1804,2.86],[1808,2.80],[1811,2.88],[1815,2.80],[1818,2.71],[1822,2.48],[1825,2.94],[1828,2.77],[1832,2.83],[1835,2.86],[1839,2.88],[1842,2.91],[1846,2.94],[1849,2.86],[1853,2.80],[1856,2.74],[1860,2.71],[1863,2.66],[1867,2.71],[1870,2.48],[1874,2.71],[1877,2.66],[1881,2.74],[1884,2.63],[1887,2.43],[1891,2.34],[1894,2.43],[1898,2.74],[1901,2.94],[1905,2.94],[1908,2.86],[1912,2.83],[1915,2.88],[1919,3.03],[1922,2.97],[1926,2.91],[1929,2.86],[1933,2.83],[1936,2.77],[1940,2.74],[1943,2.68],[1947,2.71],[1950,2.60],[1954,2.57],[1956,2.14],[1958,2.08],[1962,2.00],[1965,1.97],[1969,1.68],[1972,1.40],[1976,1.40],[1979,1.40]];

// histogram counts, listed from the top bin downward
const ddHistCounts = [288,63,54,68,78,63,36,43,16,26,20,22,16,19,16,15,10,25,21,15,15,15,16,18,25,21,21,16,15,18,16,12,10,10,3,4,2,1,4,1];
const ddHistRange = [-0.293, 0];
const retHistCounts = [2,0,1,3,5,3,5,3,3,9,14,21,22,40,66,91,92,140,124,96,73,51,39,31,20,15,19,14,6,8,7,3,2,5,0,0,2,0,1,1,0,0,1,1,0,0,0,0,0,0,0,0,0,0,0,1,0,1];
const retHistRange = [-0.182, 0.0877];

const metricNames = ['cagr','sortino','sharpe','calmar','mean_ret','median_ret','vol','var','max_drawdown','skew','ex_kurtosis','var95','cvar'];
const metricValues = ['0.6','1.685','1.468','2.048','0.551','1.018','0.375','0.141','-0.293','-1.177','7.386','-0.038','-0.059'];

const logTicks = [0, 0.5, 1, 1.5, 2, 2.5];
const ddTicks = [0, -0.05, -0.1, -0.15, -0.2, -0.25, -0.3];
const retTicks = [0.1, 0.05, 0, -0.05, -0.1, -0.15];
const sharpeTicks = [0, 1, 2, 3];
const ddCountTicks = [0, 50, 100, 150, 200, 250, 300];
const retCountTicks = [0, 25, 50, 75, 100, 125];

// ---------- style / layout ----------
const FONT = 'DejaVu Sans';
const BLUE = '#348ABD', RED = '#A60628';
const LW = 2.8;
const uminus = s => s.replace('-', '\u2212');

const grids = [
  {left: 86, top: 15.5, width: 1100, height: 516.5},
  {left: 86, top: 571.7, width: 1100, height: 238.5},
  {left: 1249, top: 571.7, width: 324.5, height: 238.5},
  {left: 86, top: 843, width: 1100, height: 244.8},
  {left: 1249, top: 843, width: 324.5, height: 244.8},
  {left: 86, top: 1127.6, width: 1100, height: 237.7}
].map(g => Object.assign(g, {show: true, backgroundColor: '#eeeeee', borderColor: '#bcbcbc', borderWidth: 1, containLabel: false, outerBoundsMode: 'none'}));

function axisCommon(ticks, fmt, margin) {
  return {
    axisLine: {show: false},
    axisTick: {show: true, inside: true, length: 5, customValues: ticks, lineStyle: {color: '#000', width: 1}},
    axisLabel: {show: true, customValues: ticks, formatter: fmt, color: '#000', fontFamily: FONT, fontSize: 14, margin: margin},
    splitLine: {show: true, lineStyle: {color: '#b2b2b2', type: [3, 2], width: 0.8}},
    minorTick: {show: false}, minorSplitLine: {show: false}
  };
}
function idxAxis(gridIndex) {
  return Object.assign({type: 'value', gridIndex, min: -99, max: 2079},
    axisCommon(tickIdx, v => tickDates[tickIdx.indexOf(v)] || '', 5));
}
function cntAxis(gridIndex, max, ticks) {
  return Object.assign({type: 'value', gridIndex, min: 0, max: max},
    axisCommon(ticks, v => String(v), 5));
}
function valAxis(gridIndex, min, max, ticks, fmt, name, gap) {
  const a = Object.assign({type: 'value', gridIndex, min, max}, axisCommon(ticks, fmt, 5.5));
  if (name) Object.assign(a, {name, nameLocation: 'middle', nameGap: gap, nameRotate: 90, nameMoveOverlap: false,
    nameTextStyle: {fontFamily: FONT, fontSize: 16, color: '#000'}});
  return a;
}
const f1 = v => uminus(v.toFixed(1));
const f2 = v => uminus(v.toFixed(2));

function histData(counts, range) {
  const w = (range[1] - range[0]) / counts.length;
  return counts.map((c, k) => [c, range[1] - (k + 1) * w, range[1] - k * w]);
}
function histItem(params, api) {
  const c = api.value(0);
  if (!c) return null;
  const p0 = api.coord([0, api.value(2)]);
  const p1 = api.coord([c, api.value(1)]);
  return {type: 'rect', shape: {x: p0[0], y: p0[1], width: p1[0] - p0[0], height: p1[1] - p0[1]}, style: {fill: BLUE}};
}
function barItem(params, api) {
  const a = api.coord([api.value(0), api.value(1)]);
  const b = api.coord([api.value(0), 0]);
  return {type: 'rect', shape: {x: a[0] - 0.6, y: Math.min(a[1], b[1]), width: 1.2, height: Math.abs(b[1] - a[1])}, style: {fill: BLUE}};
}

// table (graphic elements)
const tbl = {left: 1281.5, top: 126.5, colW: [129.7, 129.7], rowH: 21};
const tableRows = [['Metric', 'Value']].concat(metricNames.map((m, i) => [m, metricValues[i]]));
const graphics = [];
tableRows.forEach((r, ri) => {
  const y = tbl.top + ri * tbl.rowH;
  let x = tbl.left;
  r.forEach((txt, ci) => {
    const w = tbl.colW[ci];
    graphics.push({type: 'rect', silent: true, z: 10, shape: {x, y, width: w, height: tbl.rowH},
      style: {fill: '#ffffff', stroke: '#000000', lineWidth: 1}});
    const head = ri === 0;
    graphics.push({type: 'text', silent: true, z: 11, x: head ? x + w / 2 : x + w - 13.5, y: y + tbl.rowH / 2 + 0.5,
      style: {text: txt, fill: '#000', fontFamily: FONT, fontSize: 13, align: head ? 'center' : 'right', verticalAlign: 'middle'}});
    x += w;
  });
});

const legendBase = {orient: 'vertical', icon: 'rect', itemWidth: 30, itemHeight: 2.8, selectedMode: false,
  backgroundColor: 'rgba(238,238,238,0.8)', borderColor: '#d0d0d0', borderWidth: 1, borderRadius: 3,
  textStyle: {fontFamily: FONT, fontSize: 13.5, lineHeight: 16, color: '#000', padding: [0, 0, 0, 5]}};

const option = {
  animation: false,
  backgroundColor: '#ffffff',
  grid: grids,
  xAxis: [idxAxis(0), idxAxis(1), cntAxis(2, 302.4, ddCountTicks), idxAxis(3), cntAxis(4, 146.6, retCountTicks), idxAxis(5)],
  yAxis: [
    valAxis(0, -0.349, 2.578, logTicks, f1, 'Log Returns', 35),
    valAxis(1, -0.30765, 0.01465, ddTicks, f2, 'Drawdowns', 53),
    valAxis(2, -0.30765, 0.01465, ddTicks, f2),
    valAxis(3, -0.1959, 0.1086, retTicks, f2, 'Returns', 53),
    valAxis(4, -0.1959, 0.1086, retTicks, f2),
    valAxis(5, -0.753, 3.33, sharpeTicks, v => String(v), 'Sharpe', 20)
  ],
  legend: [
    Object.assign({}, legendBase, {data: ['vol_carry_strategy'], left: 95, top: 22.5, padding: [4, 6, 4, 5]}),
    Object.assign({}, legendBase, {data: ['Drawdowns', 'Max Drawdowns'], left: 1015.5, top: 757.3, itemGap: 5.4, padding: [4, 6, 4, 4]})
  ],
  graphic: graphics,
  series: [
    {type: 'line', name: 'vol_carry_strategy', xAxisIndex: 0, yAxisIndex: 0, data: logReturns, symbol: 'none', showSymbol: false,
      lineStyle: {color: BLUE, width: LW, join: 'round'}, itemStyle: {color: BLUE}},
    {type: 'line', name: 'Drawdowns', xAxisIndex: 1, yAxisIndex: 1, data: drawdowns, symbol: 'none', showSymbol: false,
      lineStyle: {color: BLUE, width: LW, join: 'round'}, itemStyle: {color: BLUE}},
    {type: 'line', name: 'Max Drawdowns', xAxisIndex: 1, yAxisIndex: 1, data: maxDrawdowns, symbol: 'none', showSymbol: false,
      lineStyle: {color: RED, width: LW, join: 'round'}, itemStyle: {color: RED}},
    {type: 'custom', name: 'ddHist', xAxisIndex: 2, yAxisIndex: 2, data: histData(ddHistCounts, ddHistRange),
      encode: {x: 0, y: [1, 2]}, renderItem: histItem, clip: true},
    {type: 'custom', name: 'returns', xAxisIndex: 3, yAxisIndex: 3, data: returns,
      encode: {x: 0, y: 1}, renderItem: barItem, clip: true},
    {type: 'custom', name: 'retHist', xAxisIndex: 4, yAxisIndex: 4, data: histData(retHistCounts, retHistRange),
      encode: {x: 0, y: [1, 2]}, renderItem: histItem, clip: true},
    {type: 'line', name: 'Sharpe', xAxisIndex: 5, yAxisIndex: 5, data: rollingSharpe, symbol: 'none', showSymbol: false,
      lineStyle: {color: BLUE, width: LW, join: 'round'}, itemStyle: {color: BLUE}}
  ]
};

const chart = echarts.init(document.getElementById('c'), null, {renderer: 'canvas', width: 1600, height: 1400});
chart.setOption(option);
</script>
</body></html>
